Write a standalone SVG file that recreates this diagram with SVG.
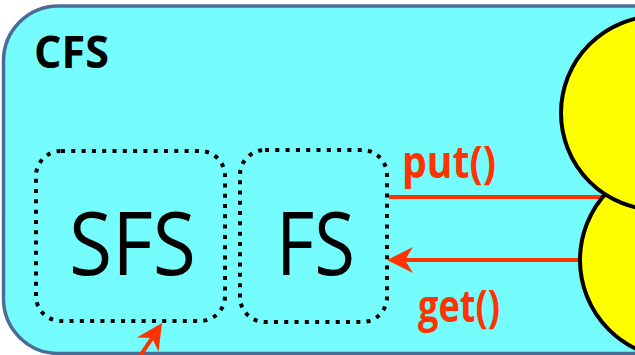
<svg xmlns="http://www.w3.org/2000/svg" width="635" height="355" viewBox="0 0 635 355">
  <style>
    .frame { fill: #75fdfd; stroke: #4a6c97; stroke-width: 3.5; }
    .dotted { fill: none; stroke: #000; stroke-width: 4; stroke-dasharray: 4 6.3; }
    .ball { fill: #ffff00; stroke: #000; stroke-width: 4; }
    .wire { fill: none; stroke: #ff3300; stroke-width: 4; }
    .label { font-family: "Open Sans", "Liberation Sans", sans-serif; fill: #000; }
    .call { font-family: "Open Sans", "Liberation Sans", sans-serif; font-weight: bold; font-size: 44px; fill: #ff3300; }
  </style>
  <defs>
    <marker id="stealth" markerUnits="userSpaceOnUse" viewBox="0 0 30 30" markerWidth="30" markerHeight="30" refX="12" refY="15" orient="auto">
      <path d="M28,15 L2,2 L10,15 L2,28 Z" fill="#ff3300"/>
    </marker>
  </defs>

  <!-- outer CFS container -->
  <g id="cfs">
    <rect class="frame" x="3.5" y="6" width="700" height="347.5" rx="55" ry="55"/>
    <text class="label" x="34" y="68" font-size="45" font-weight="bold" textLength="75" lengthAdjust="spacingAndGlyphs">CFS</text>
  </g>

  <!-- SFS layer -->
  <g id="sfs">
    <rect class="dotted" x="36" y="151" width="189" height="170" rx="25" ry="25"/>
    <text class="label" x="69" y="275" font-size="88" textLength="127" lengthAdjust="spacingAndGlyphs">SFS</text>
  </g>

  <!-- FS layer -->
  <g id="fs">
    <rect class="dotted" x="240" y="150" width="147" height="172" rx="25" ry="25"/>
    <text class="label" x="276" y="275" font-size="88" textLength="79" lengthAdjust="spacingAndGlyphs">FS</text>
  </g>

  <!-- connectors -->
  <g id="connectors">
    <line class="wire" x1="389" y1="197" x2="615" y2="197"/>
    <line class="wire" x1="590" y1="260" x2="403" y2="260" marker-end="url(#stealth)"/>
    <line class="wire" x1="136.7" y1="361.2" x2="153.2" y2="336.3" marker-end="url(#stealth)"/>
    <text class="call" x="402" y="178" textLength="94" lengthAdjust="spacingAndGlyphs">put()</text>
    <text class="call" x="418" y="322" textLength="82" lengthAdjust="spacingAndGlyphs">get()</text>
  </g>

  <!-- external storage nodes -->
  <g id="store-lower">
    <circle class="ball" cx="678.5" cy="260" r="98.5"/>
  </g>
  <g id="store-upper">
    <circle class="ball" cx="658" cy="113" r="97"/>
  </g>
</svg>
